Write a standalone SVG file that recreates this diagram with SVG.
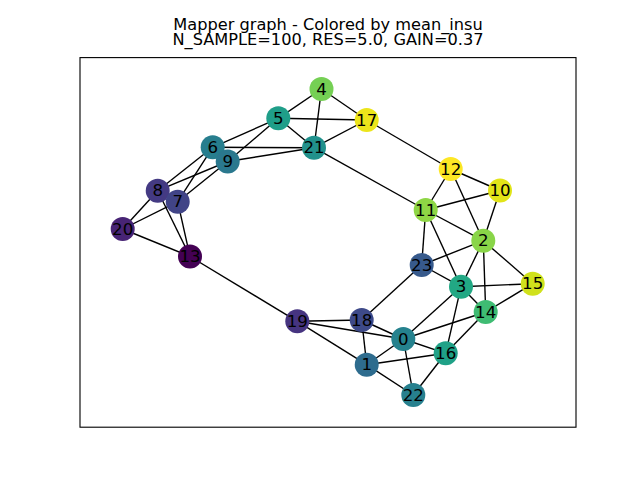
<svg xmlns="http://www.w3.org/2000/svg" width="640" height="480" viewBox="0 0 640 480">
<style>
.t{font-family:"DejaVu Sans",sans-serif;font-size:16.2px;fill:#000;text-anchor:middle}
.l{font-family:"DejaVu Sans",sans-serif;font-size:16.67px;fill:#000;text-anchor:middle;dominant-baseline:central}
#edges line{stroke:#000;stroke-width:1.39}
</style>
<rect width="640" height="480" fill="#fff"/>
<text class="t" id="title"><tspan x="328" y="30">Mapper graph - Colored by mean_insu</tspan><tspan x="328" y="44.8">N_SAMPLE=100, RES=5.0, GAIN=0.37</tspan></text>
<rect x="80" y="57.6" width="496" height="369.6" fill="none" stroke="#000" stroke-width="1.11"/>
<g id="edges">
<line x1="321.5" y1="89" x2="278.3" y2="118.3"/>
<line x1="321.5" y1="89" x2="366.7" y2="120"/>
<line x1="321.5" y1="89" x2="314" y2="147.7"/>
<line x1="278.3" y1="118.3" x2="366.7" y2="120"/>
<line x1="278.3" y1="118.3" x2="314" y2="147.7"/>
<line x1="278.3" y1="118.3" x2="212.7" y2="147.3"/>
<line x1="278.3" y1="118.3" x2="227.7" y2="161.5"/>
<line x1="366.7" y1="120" x2="314" y2="147.7"/>
<line x1="366.7" y1="120" x2="450.7" y2="169"/>
<line x1="212.7" y1="147.3" x2="314" y2="147.7"/>
<line x1="227.7" y1="161.5" x2="314" y2="147.7"/>
<line x1="212.7" y1="147.3" x2="227.7" y2="161.5"/>
<line x1="212.7" y1="147.3" x2="157.7" y2="190.7"/>
<line x1="212.7" y1="147.3" x2="177.7" y2="201.7"/>
<line x1="227.7" y1="161.5" x2="157.7" y2="190.7"/>
<line x1="227.7" y1="161.5" x2="177.7" y2="201.7"/>
<line x1="157.7" y1="190.7" x2="177.7" y2="201.7"/>
<line x1="157.7" y1="190.7" x2="122.7" y2="229"/>
<line x1="157.7" y1="190.7" x2="190" y2="256.5"/>
<line x1="177.7" y1="201.7" x2="122.7" y2="229"/>
<line x1="177.7" y1="201.7" x2="190" y2="256.5"/>
<line x1="122.7" y1="229" x2="190" y2="256.5"/>
<line x1="314" y1="147.7" x2="425.7" y2="210"/>
<line x1="190" y1="256.5" x2="297.3" y2="321.3"/>
<line x1="450.7" y1="169" x2="425.7" y2="210"/>
<line x1="450.7" y1="169" x2="500" y2="190.5"/>
<line x1="450.7" y1="169" x2="483.3" y2="240.7"/>
<line x1="500" y1="190.5" x2="425.7" y2="210"/>
<line x1="500" y1="190.5" x2="483.3" y2="240.7"/>
<line x1="425.7" y1="210" x2="483.3" y2="240.7"/>
<line x1="425.7" y1="210" x2="421.7" y2="265"/>
<line x1="425.7" y1="210" x2="461" y2="286.7"/>
<line x1="483.3" y1="240.7" x2="421.7" y2="265"/>
<line x1="483.3" y1="240.7" x2="461" y2="286.7"/>
<line x1="483.3" y1="240.7" x2="532.7" y2="283.7"/>
<line x1="483.3" y1="240.7" x2="485.7" y2="312"/>
<line x1="421.7" y1="265" x2="461" y2="286.7"/>
<line x1="421.7" y1="265" x2="361.7" y2="320"/>
<line x1="461" y1="286.7" x2="532.7" y2="283.7"/>
<line x1="461" y1="286.7" x2="485.7" y2="312"/>
<line x1="461" y1="286.7" x2="403.3" y2="339"/>
<line x1="461" y1="286.7" x2="445.7" y2="353.3"/>
<line x1="532.7" y1="283.7" x2="485.7" y2="312"/>
<line x1="485.7" y1="312" x2="403.3" y2="339"/>
<line x1="485.7" y1="312" x2="445.7" y2="353.3"/>
<line x1="297.3" y1="321.3" x2="361.7" y2="320"/>
<line x1="297.3" y1="321.3" x2="403.3" y2="339"/>
<line x1="297.3" y1="321.3" x2="366.7" y2="364.7"/>
<line x1="361.7" y1="320" x2="403.3" y2="339"/>
<line x1="361.7" y1="320" x2="366.7" y2="364.7"/>
<line x1="403.3" y1="339" x2="366.7" y2="364.7"/>
<line x1="403.3" y1="339" x2="445.7" y2="353.3"/>
<line x1="403.3" y1="339" x2="413.3" y2="395"/>
<line x1="366.7" y1="364.7" x2="445.7" y2="353.3"/>
<line x1="366.7" y1="364.7" x2="413.3" y2="395"/>
<line x1="445.7" y1="353.3" x2="413.3" y2="395"/>
</g>
<g id="n4"><circle cx="321.5" cy="89" r="12" fill="#75d054"/><text class="l" x="321.5" y="89">4</text></g>
<g id="n5"><circle cx="278.3" cy="118.3" r="12" fill="#1f9e89"/><text class="l" x="278.3" y="118.3">5</text></g>
<g id="n17"><circle cx="366.7" cy="120" r="12" fill="#ece51b"/><text class="l" x="366.7" y="120">17</text></g>
<g id="n21"><circle cx="314" cy="147.7" r="12" fill="#21918c"/><text class="l" x="314" y="147.7">21</text></g>
<g id="n6"><circle cx="212.7" cy="147.3" r="12" fill="#277e8e"/><text class="l" x="212.7" y="147.3">6</text></g>
<g id="n9"><circle cx="227.7" cy="161.5" r="12" fill="#2a788e"/><text class="l" x="227.7" y="161.5">9</text></g>
<g id="n8"><circle cx="157.7" cy="190.7" r="12" fill="#443a83"/><text class="l" x="157.7" y="190.7">8</text></g>
<g id="n7"><circle cx="177.7" cy="201.7" r="12" fill="#414487"/><text class="l" x="177.7" y="201.7">7</text></g>
<g id="n20"><circle cx="122.7" cy="229" r="12" fill="#482475"/><text class="l" x="122.7" y="229">20</text></g>
<g id="n13"><circle cx="190" cy="256.5" r="12" fill="#440154"/><text class="l" x="190" y="256.5">13</text></g>
<g id="n12"><circle cx="450.7" cy="169" r="12" fill="#fde725"/><text class="l" x="450.7" y="169">12</text></g>
<g id="n10"><circle cx="500" cy="190.5" r="12" fill="#e2e418"/><text class="l" x="500" y="190.5">10</text></g>
<g id="n11"><circle cx="425.7" cy="210" r="12" fill="#8ed645"/><text class="l" x="425.7" y="210">11</text></g>
<g id="n2"><circle cx="483.3" cy="240.7" r="12" fill="#89d548"/><text class="l" x="483.3" y="240.7">2</text></g>
<g id="n23"><circle cx="421.7" cy="265" r="12" fill="#375a8c"/><text class="l" x="421.7" y="265">23</text></g>
<g id="n3"><circle cx="461" cy="286.7" r="12" fill="#22a884"/><text class="l" x="461" y="286.7">3</text></g>
<g id="n15"><circle cx="532.7" cy="283.7" r="12" fill="#d0e11c"/><text class="l" x="532.7" y="283.7">15</text></g>
<g id="n14"><circle cx="485.7" cy="312" r="12" fill="#3fbc73"/><text class="l" x="485.7" y="312">14</text></g>
<g id="n19"><circle cx="297.3" cy="321.3" r="12" fill="#463480"/><text class="l" x="297.3" y="321.3">19</text></g>
<g id="n18"><circle cx="361.7" cy="320" r="12" fill="#3e4a89"/><text class="l" x="361.7" y="320">18</text></g>
<g id="n0"><circle cx="403.3" cy="339" r="12" fill="#25828e"/><text class="l" x="403.3" y="339">0</text></g>
<g id="n16"><circle cx="445.7" cy="353.3" r="12" fill="#1fa187"/><text class="l" x="445.7" y="353.3">16</text></g>
<g id="n1"><circle cx="366.7" cy="364.7" r="12" fill="#2e6c8e"/><text class="l" x="366.7" y="364.7">1</text></g>
<g id="n22"><circle cx="413.3" cy="395" r="12" fill="#27808e"/><text class="l" x="413.3" y="395">22</text></g>
</svg>
